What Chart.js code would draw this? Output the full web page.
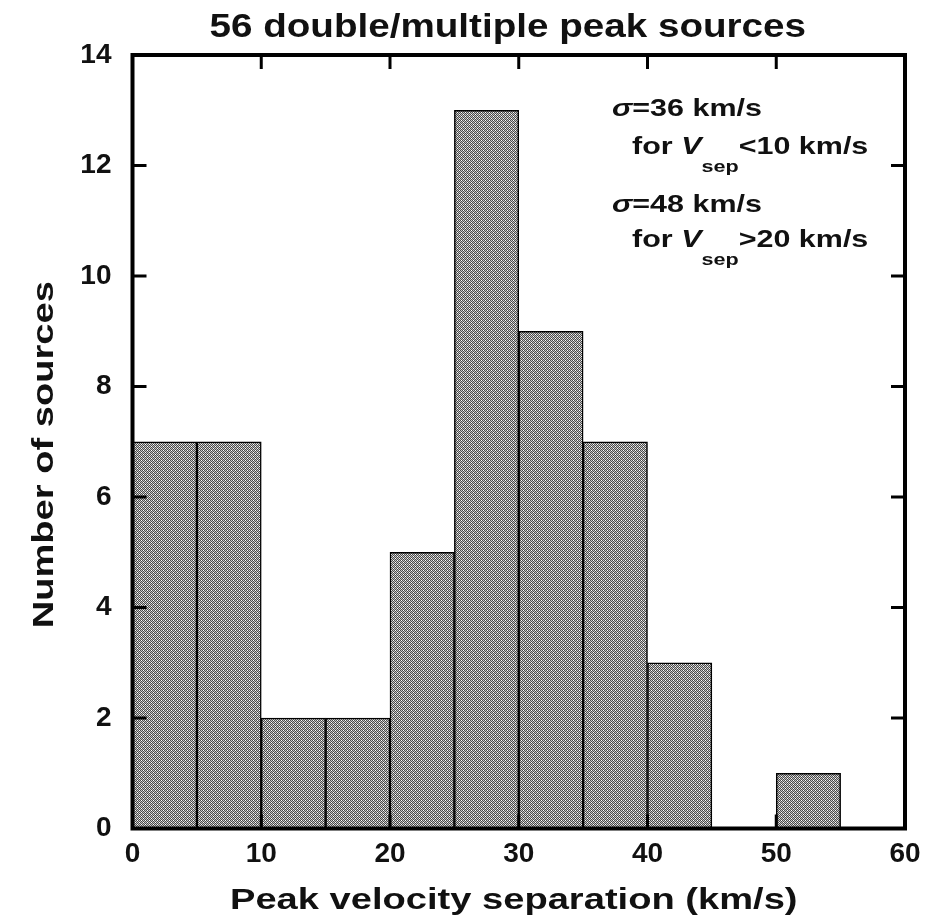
<!DOCTYPE html>
<html>
<head>
<meta charset="utf-8">
<script src="https://cdn.jsdelivr.net/npm/chart.js@4.4.1/dist/chart.umd.min.js"></script>
<style>
  html, body { margin: 0; padding: 0; background: #fff; }
  canvas { display: block; }
</style>
</head>
<body>
<canvas id="c" width="931" height="920"></canvas>
<script>
// Histogram bins (km/s) and number of sources per bin
const binStarts = [0, 5, 10, 15, 20, 25, 30, 35, 40, 45, 50];
const binWidth = 5;
const counts = [7, 7, 2, 2, 5, 13, 9, 7, 3, 0, 1];

// Axis ticks
const xTicks = [0, 10, 20, 30, 40, 50, 60];
const yTicks = [0, 2, 4, 6, 8, 10, 12, 14];

// Texts
const titleText = '56 double/multiple peak sources';
const xTitleText = 'Peak velocity separation (km/s)';
const yTitleText = 'Number of sources';

// Dispersion notes: [x, y] in data units, then text runs
const noteLines = [
  { at: [37.25, 12.90], runs: [['\u03c3', 'sym'], ['=36 km/s', 'main']] },
  { at: [38.80, 12.20], runs: [['for ', 'main'], ['V', 'ital'], ['sep', 'sub'], ['<10 km/s', 'main']] },
  { at: [37.25, 11.16], runs: [['\u03c3', 'sym'], ['=48 km/s', 'main']] },
  { at: [38.80, 10.52], runs: [['for ', 'main'], ['V', 'ital'], ['sep', 'sub'], ['>20 km/s', 'main']] }
];

const FAMILY = '"Liberation Sans", Arial, Helvetica, sans-serif';
const STRETCH = 1.27; // wide lettering of the labels

const histData = binStarts.map((s, i) => ({ x: s + binWidth / 2, y: counts[i] }));

// Fine grey checker fill for the bars
function checkerPattern() {
  const c = document.createElement('canvas');
  c.width = 4; c.height = 4;
  const g = c.getContext('2d');
  for (let yy = 0; yy < 4; yy++) {
    for (let xx = 0; xx < 4; xx++) {
      let col = ((xx + yy) % 2 === 0) ? '#4a4a4a' : '#c6c6c6';
      if (xx % 4 === 1 && yy % 4 === 0) col = '#ffffff';
      if (xx % 4 === 3 && yy % 4 === 2) col = '#ffffff';
      g.fillStyle = col;
      g.fillRect(xx, yy, 1, 1);
    }
  }
  return c;
}

const ctx0 = document.getElementById('c').getContext('2d');
const fillPattern = ctx0.createPattern(checkerPattern(), 'repeat');

function stretchedText(ctx, text, x, y, font, sx) {
  const k = sx || STRETCH;
  ctx.font = font;
  ctx.save();
  ctx.translate(x, y);
  ctx.scale(k, 1);
  ctx.fillText(text, 0, 0);
  ctx.restore();
  return ctx.measureText(text).width * k;
}

// Frame with inward ticks on all four sides
const framePlugin = {
  id: 'frame',
  afterDatasetsDraw(chart) {
    const { ctx, chartArea: a, scales: { x, y } } = chart;
    const L = 14;
    ctx.save();
    ctx.strokeStyle = '#000';
    ctx.lineWidth = 3;
    ctx.lineCap = 'butt';
    ctx.beginPath();
    xTicks.forEach(v => {
      const px = x.getPixelForValue(v);
      ctx.moveTo(px, a.bottom); ctx.lineTo(px, a.bottom - L);
      ctx.moveTo(px, a.top); ctx.lineTo(px, a.top + L);
    });
    yTicks.forEach(v => {
      const py = y.getPixelForValue(v);
      ctx.moveTo(a.left, py); ctx.lineTo(a.left + L, py);
      ctx.moveTo(a.right, py); ctx.lineTo(a.right - L, py);
    });
    ctx.stroke();
    ctx.lineWidth = 4;
    ctx.strokeRect(a.left, a.top, a.right - a.left, a.bottom - a.top);
    ctx.restore();
  }
};

// Titles and notes
const textPlugin = {
  id: 'texts',
  afterDraw(chart) {
    const { ctx, chartArea: a, scales: { x, y } } = chart;
    const cx = (a.left + a.right) / 2;
    const cy = (a.top + a.bottom) / 2;
    ctx.save();
    ctx.fillStyle = '#111';
    ctx.textBaseline = 'alphabetic';
    ctx.textAlign = 'left';

    // chart title
    const titleStretch = 1.17;
    let f = 'bold 33px ' + FAMILY;
    ctx.font = f;
    let w = ctx.measureText(titleText).width * titleStretch;
    stretchedText(ctx, titleText, cx - 11 - w / 2, a.top - 18, f, titleStretch);

    // x axis title
    f = 'bold 30px ' + FAMILY;
    ctx.font = f;
    w = ctx.measureText(xTitleText).width * STRETCH;
    stretchedText(ctx, xTitleText, cx - 5 - w / 2, a.bottom + 80, f);

    // y axis title
    ctx.font = f;
    w = ctx.measureText(yTitleText).width * STRETCH;
    ctx.save();
    ctx.translate(a.left - 80, cy + 13);
    ctx.rotate(-Math.PI / 2);
    stretchedText(ctx, yTitleText, -w / 2, 0, f);
    ctx.restore();

    // notes
    const fonts = {
      main: ['bold 24px ' + FAMILY, 0],
      sym: ['italic bold 24px ' + FAMILY, 0],
      ital: ['italic bold 24px ' + FAMILY, 0],
      sub: ['bold 17px ' + FAMILY, 18]
    };
    noteLines.forEach(line => {
      let px = x.getPixelForValue(line.at[0]);
      const py = y.getPixelForValue(line.at[1]);
      line.runs.forEach(([t, kind]) => {
        const [font, dy] = fonts[kind];
        px += stretchedText(ctx, t, px, py + dy, font);
      });
    });
    ctx.restore();
  }
};

new Chart(ctx0, {
  type: 'bar',
  data: {
    datasets: [{
      data: histData,
      backgroundColor: fillPattern,
      borderColor: '#000',
      borderWidth: 1.5,
      borderSkipped: 'start',
      barPercentage: 1.0,
      categoryPercentage: 1.0
    }]
  },
  options: {
    responsive: false,
    animation: false,
    events: [],
    layout: { padding: { left: 0, right: 26, top: 55, bottom: 0 } },
    plugins: {
      legend: { display: false },
      title: { display: false },
      tooltip: { enabled: false }
    },
    scales: {
      x: {
        type: 'linear',
        min: 0, max: 60,
        offset: false,
        afterBuildTicks: s => { s.ticks = xTicks.map(v => ({ value: v })); },
        afterFit: s => { s.height = 91.5; },
        grid: { display: false, drawTicks: false },
        border: { display: false },
        ticks: {
          padding: 9,
          color: '#111',
          maxRotation: 0,
          autoSkip: false,
          font: { family: FAMILY, size: 28, weight: 'bold' }
        }
      },
      y: {
        type: 'linear',
        min: 0, max: 14,
        afterBuildTicks: s => { s.ticks = yTicks.map(v => ({ value: v })); },
        afterFit: s => { s.width = 132.5; },
        grid: { display: false, drawTicks: false },
        border: { display: false },
        ticks: {
          padding: 21,
          color: '#111',
          autoSkip: false,
          font: { family: FAMILY, size: 28, weight: 'bold' }
        }
      }
    }
  },
  plugins: [framePlugin, textPlugin]
});
</script>
</body>
</html>
